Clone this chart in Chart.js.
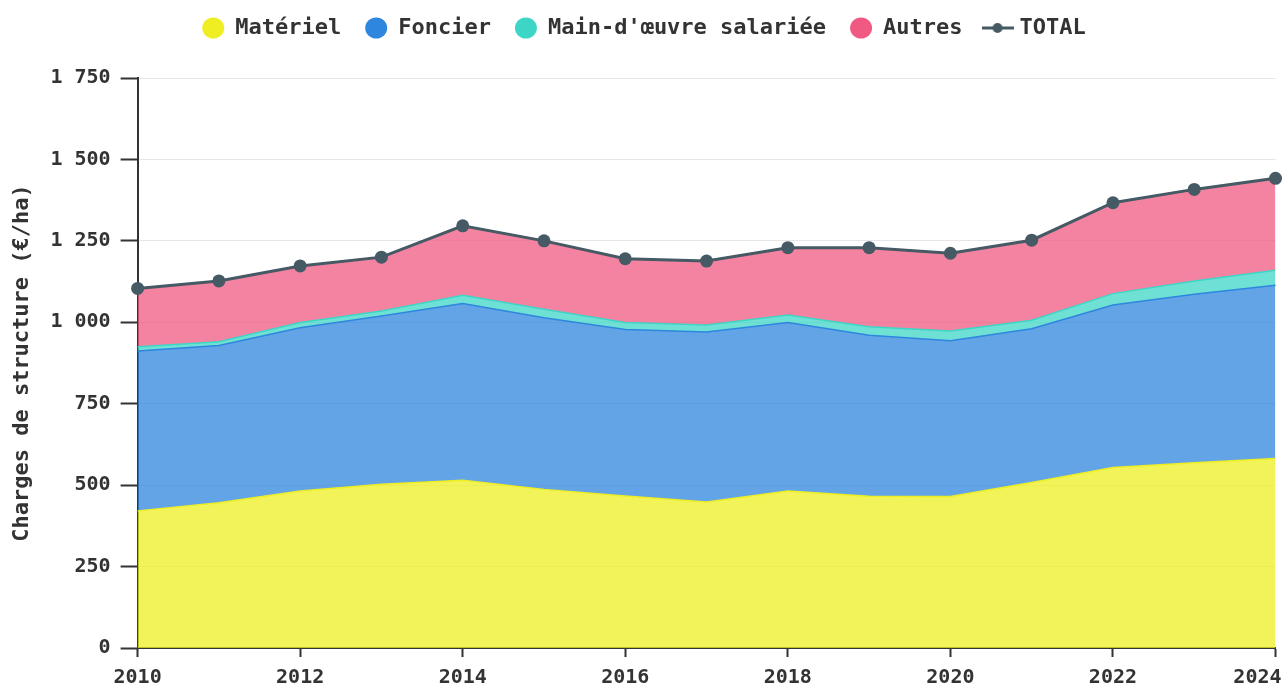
<!DOCTYPE html>
<html>
<head>
<meta charset="utf-8">
<script src="https://cdn.jsdelivr.net/npm/chart.js@4.4.1/dist/chart.umd.min.js"></script>
<style>
  html, body { margin: 0; padding: 0; background: #fff; overflow: hidden; }
  #wrap { position: relative; width: 1282px; height: 684px; }
</style>
</head>
<body>
<div id="wrap"><canvas id="c"></canvas></div>
<script>
const years = ['2010','2011','2012','2013','2014','2015','2016','2017','2018','2019','2020','2021','2022','2023','2024'];
const materiel = [421, 446, 482, 503, 515, 487, 467, 448, 482, 466, 465, 508, 554, 569, 582];
const foncier  = [491, 483, 501, 516, 543, 527, 511, 522, 517, 494, 478, 472, 499, 517, 532];
const mainOeuvre = [13, 11, 16, 16, 25, 26, 21, 22, 23, 26, 30, 26, 35, 41, 46];
const autres   = [179, 187, 174, 165, 213, 210, 196, 196, 207, 243, 239, 246, 279, 281, 282];
const total    = [1104, 1127, 1173, 1200, 1296, 1250, 1195, 1188, 1229, 1229, 1212, 1252, 1367, 1408, 1442];
const yTicks = [0, 250, 500, 750, 1000, 1250, 1500, 1750];

const FONT = "'DejaVu Sans Mono', monospace";
const TEXT = '#333333';
const TOTAL_COL = '#455a64';

function rgba(hex, a) {
  const n = parseInt(hex.slice(1), 16);
  return `rgba(${(n >> 16) & 255},${(n >> 8) & 255},${n & 255},${a})`;
}

// legend marker for TOTAL: line + dot
const totalMarker = document.createElement('canvas');
totalMarker.width = 32; totalMarker.height = 12;
(function () {
  const g = totalMarker.getContext('2d');
  g.strokeStyle = TOTAL_COL; g.lineWidth = 3;
  g.beginPath(); g.moveTo(0, 6); g.lineTo(32, 6); g.stroke();
  g.fillStyle = TOTAL_COL;
  g.beginPath(); g.arc(16, 6, 5, 0, Math.PI * 2); g.fill();
})();

function area(label, data, color, fill) {
  return {
    label, data,
    borderColor: color,
    backgroundColor: rgba(color, 0.75),
    borderWidth: 1.5,
    fill,
    pointRadius: 0,
    pointHoverRadius: 0,
    tension: 0,
    stack: 'charges',
    order: 1,
    _solid: color
  };
}

new Chart(document.getElementById('c'), {
  type: 'line',
  data: {
    labels: years,
    datasets: [
      area('Matériel', materiel, '#eeee22', 'origin'),
      area('Foncier', foncier, '#2e86de', '-1'),
      area("Main-d'œuvre salariée", mainOeuvre, '#3dd6c6', '-1'),
      area('Autres', autres, '#f05a82', '-1'),
      {
        label: 'TOTAL', data: total,
        borderColor: TOTAL_COL, backgroundColor: TOTAL_COL,
        borderWidth: 3, pointRadius: 6.5, pointHoverRadius: 6.5,
        pointBackgroundColor: TOTAL_COL, pointBorderWidth: 0,
        fill: false, tension: 0, stack: 'total', order: 0,
        _solid: TOTAL_COL
      }
    ]
  },
  options: {
    responsive: true,
    maintainAspectRatio: false,
    animation: false,
    layout: { padding: { top: -7, right: -2, left: 4, bottom: -15 } },
    plugins: {
      tooltip: { enabled: false },
      subtitle: {
        display: true, text: '', weight: 500, position: 'top',
        font: { size: 1, lineHeight: 1 },
        padding: { top: 28, bottom: 0 }
      },
      legend: {
        position: 'top',
        labels: {
          font: { family: FONT, size: 22, weight: 'bold' },
          color: TEXT,
          usePointStyle: true,
          boxHeight: 15,
          boxWidth: 22,
          pointStyleWidth: 22,
          padding: 24,
          sort: (a, b) => a.datasetIndex - b.datasetIndex,
          generateLabels(chart) {
            return chart.data.datasets.map((ds, i) => ({
              text: ds.label,
              fillStyle: ds._solid,
              strokeStyle: ds._solid,
              lineWidth: 0,
              fontColor: TEXT,
              pointStyle: ds.label === 'TOTAL' ? totalMarker : 'circle',
              hidden: false,
              datasetIndex: i
            }));
          }
        }
      }
    },
    scales: {
      x: {
        type: 'category',
        offset: false,
        border: { display: true, color: TEXT, width: 2 },
        grid: {
          display: true, drawOnChartArea: false, tickLength: 9,
          tickWidth: 2,
          tickColor: (ctx) => (ctx.index % 2 === 0 ? TEXT : 'rgba(0,0,0,0)')
        },
        ticks: {
          autoSkip: false, maxRotation: 0, padding: 9,
          font: { family: FONT, size: 20, weight: 'bold' }, color: TEXT,
          callback: function (v, i) {
            if (i % 2 !== 0) return '';
            // last label is pushed left, as in the reference where it sits against the edge
            return i === years.length - 1 ? years[i] + '   ' : years[i];
          }
        },
        afterFit(scale) { scale.paddingRight = 0; scale.paddingLeft = 0; }
      },
      y: {
        stacked: true,
        min: 0, max: 1750,
        border: { display: true, color: TEXT, width: 2 },
        grid: { color: '#e6e6e6', lineWidth: 1, tickLength: 17, tickColor: TEXT, tickWidth: 2 },
        afterBuildTicks(scale) { scale.ticks = yTicks.map(v => ({ value: v })); },
        ticks: {
          padding: 10,
          font: { family: FONT, size: 20, weight: 'bold' }, color: TEXT,
          callback: (v) => String(v).replace(/\B(?=(\d{3})+(?!\d))/g, ' ')
        },
        title: {
          display: true, text: 'Charges de structure (€/ha)',
          font: { family: FONT, size: 22, weight: 'bold' }, color: TEXT,
          padding: { top: 5, bottom: 5 }
        }
      }
    }
  }
});
</script>
</body>
</html>
